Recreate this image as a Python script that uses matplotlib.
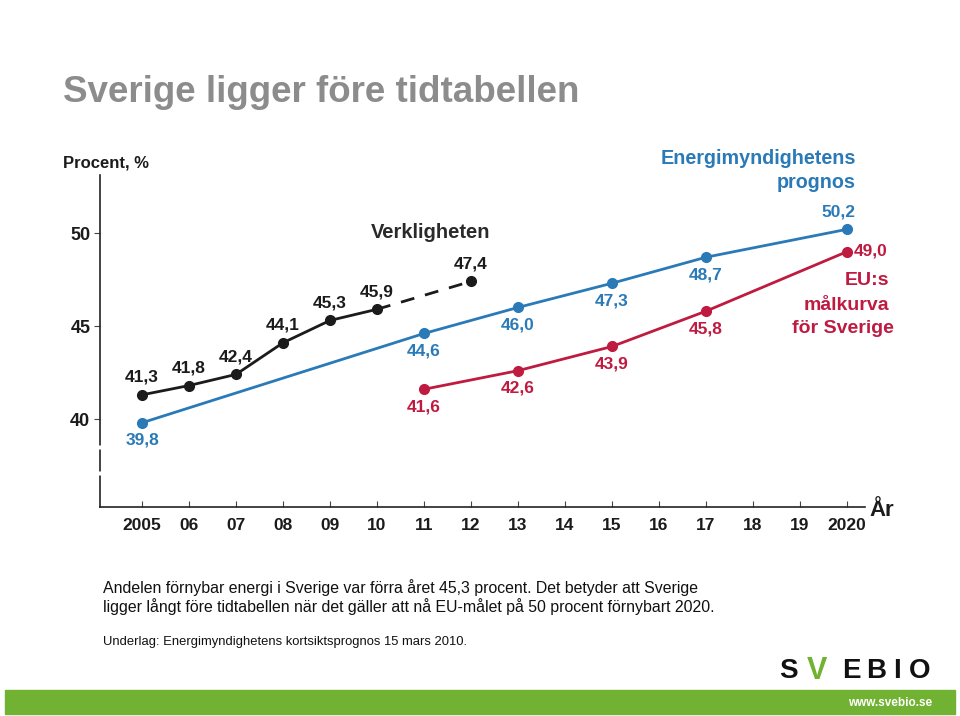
import matplotlib
matplotlib.use("Agg")
import matplotlib.pyplot as plt
from matplotlib.patches import Rectangle

# data
real_years = [2005, 2006, 2007, 2008, 2009, 2010]
real_vals = [41.3, 41.8, 42.4, 44.1, 45.3, 45.9]
est_years = [2010, 2012]
est_vals = [45.9, 47.4]
prog_years = [2005, 2011, 2013, 2015, 2017, 2020]
prog_vals = [39.8, 44.6, 46.0, 47.3, 48.7, 50.2]
eu_years = [2011, 2013, 2015, 2017, 2020]
eu_vals = [41.6, 42.6, 43.9, 45.8, 49.0]
xticks = list(range(2005, 2021))
xtick_labels = ["2005", "06", "07", "08", "09", "10", "11", "12", "13", "14",
                "15", "16", "17", "18", "19", "2020"]
yticks = [40, 45, 50]

BLACK = "#1b1b1b"
BLUE = "#2a7ab8"
RED = "#bf1a3f"
GRAY = "#8c8c8c"
GREEN = "#72b232"

narrow = ["Liberation Sans Narrow", "Liberation Sans", "DejaVu Sans"]
plain = ["Liberation Sans", "DejaVu Sans"]

W, H = 960, 716
fig = plt.figure(figsize=(9.6, 7.16), dpi=100)

def fx(px):
    return px / W

def fy(py):
    return 1 - py / H

ax = fig.add_axes([fx(100), fy(507), fx(865) - fx(100), fy(175) - fy(507)])
ax.set_xlim(2004.106, 2020.383)
ax.set_ylim(35.27, 53.12)
for s in ["top", "right"]:
    ax.spines[s].set_visible(False)
ax.spines["left"].set_color("#222222")
ax.spines["bottom"].set_color("#222222")
ax.spines["left"].set_linewidth(1.2)
ax.spines["bottom"].set_linewidth(1.2)

ax.set_xticks(xticks)
ax.set_xticklabels(xtick_labels, family=narrow, fontweight="bold", fontsize=12.5, color=BLACK)
ax.tick_params(axis="x", direction="in", length=4, pad=8, color="#444444")
ax.set_yticks(yticks)
ax.set_yticklabels([str(v) for v in yticks], family=narrow, fontweight="bold", fontsize=13, color=BLACK)
ax.tick_params(axis="y", direction="out", length=4, pad=3, color="#444444")

# small breaks in the y axis below 40, as on the slide
for y0 in [38.4, 37.0]:
    ax.plot([2004.106, 2004.106], [y0, y0 + 0.2], color="white", lw=2.5,
            solid_capstyle="butt", clip_on=False, zorder=4)

ax.plot(real_years, real_vals, color=BLACK, lw=2, marker="o", ms=7, zorder=3)
ax.plot(est_years, est_vals, color=BLACK, lw=2, ls=(0, (5, 4)), zorder=3)
ax.plot(est_years[-1:], est_vals[-1:], color=BLACK, marker="o", ms=7, zorder=3)
ax.plot(prog_years, prog_vals, color=BLUE, lw=2, marker="o", ms=7, zorder=3)
ax.plot(eu_years, eu_vals, color=RED, lw=2, marker="o", ms=7, zorder=3)

def fmt(v):
    return ("%.1f" % v).replace(".", ",")

lab = dict(family=narrow, fontweight="bold", fontsize=12.5, ha="center")
# black labels above points
for x, v in zip(real_years + est_years[-1:], real_vals + est_vals[-1:]):
    ax.annotate(fmt(v), (x, v), xytext=(0, 10), textcoords="offset pixels",
                va="bottom", color=BLACK, **lab)
# blue labels below, last one above
for x, v in zip(prog_years, prog_vals):
    if x == 2020:
        ax.annotate(fmt(v), (x, v), xytext=(-9, 10), textcoords="offset pixels",
                    va="bottom", color=BLUE, **lab)
    else:
        ax.annotate(fmt(v), (x, v), xytext=(0, -10), textcoords="offset pixels",
                    va="top", color=BLUE, **lab)
# red labels below, last one to the right
for x, v in zip(eu_years, eu_vals):
    if x == 2020:
        ax.annotate(fmt(v), (x, v), xytext=(7, 1), textcoords="offset pixels",
                    va="center", color=RED, family=narrow, fontweight="bold",
                    fontsize=12.5, ha="left")
    else:
        ax.annotate(fmt(v), (x, v), xytext=(0, -10), textcoords="offset pixels",
                    va="top", color=RED, **lab)

# chart annotations
fig.text(fx(63), fy(163), "Procent, %", family=plain, fontweight="bold",
         fontsize=12, color=BLACK, va="center", ha="left")
fig.text(fx(431), fy(233), "Verkligheten", family=plain, fontweight="bold",
         fontsize=14.5, color="#2a2a2a", va="center", ha="center")
fig.text(fx(856), fy(158), "Energimyndighetens", family=plain, fontweight="bold",
         fontsize=14.2, color=BLUE, va="center", ha="right")
fig.text(fx(856), fy(182), "prognos", family=plain, fontweight="bold",
         fontsize=14.2, color=BLUE, va="center", ha="right")
fig.text(fx(889), fy(281), "EU:s", family=plain, fontweight="bold",
         fontsize=14, color=RED, va="center", ha="right")
fig.text(fx(889), fy(305), "målkurva", family=plain, fontweight="bold",
         fontsize=14, color=RED, va="center", ha="right")
fig.text(fx(894), fy(328), "för Sverige", family=plain, fontweight="bold",
         fontsize=14, color=RED, va="center", ha="right")
fig.text(fx(869), fy(510), "År", family=plain, fontweight="bold",
         fontsize=16, color=BLACK, va="center", ha="left")

# slide texts
fig.text(fx(63), fy(93), "Sverige ligger före tidtabellen", family=plain,
         fontweight="bold", fontsize=26.5, color=GRAY, va="center", ha="left")
fig.text(fx(103), fy(588), "Andelen förnybar energi i Sverige var förra året 45,3 procent. "
         "Det betyder att Sverige", family=plain, fontsize=11.4, color="#111111",
         va="center", ha="left")
fig.text(fx(103), fy(607), "ligger långt före tidtabellen när det gäller att nå EU-målet "
         "på 50 procent förnybart 2020.", family=plain, fontsize=11.4,
         color="#111111", va="center", ha="left")
fig.text(fx(103), fy(642), "Underlag: Energimyndighetens kortsiktsprognos 15 mars 2010.",
         family=plain, fontsize=9.4, color="#111111", va="center", ha="left")

# footer bar and logo
fig.patches.append(Rectangle((fx(5), fy(714)), fx(955) - fx(5), fy(690) - fy(714),
                             transform=fig.transFigure, color=GREEN, zorder=0))
fig.text(fx(932), fy(703), "www.svebio.se", family=narrow, fontweight="bold",
         fontsize=8.5, color="white", va="center", ha="right")
logo = dict(family=plain, fontweight="bold", va="center", ha="center")
fig.text(fx(788), fy(671), "S", color="#111111", fontsize=20, **logo)
fig.text(fx(817), fy(671), "V", color=GREEN, fontsize=22, **logo)
for ch, px in zip("EBIO", [851, 876, 897, 920]):
    fig.text(fx(px), fy(671), ch, color="#111111", fontsize=20, **logo)

fig.savefig("out.png", dpi=100, facecolor="white")
